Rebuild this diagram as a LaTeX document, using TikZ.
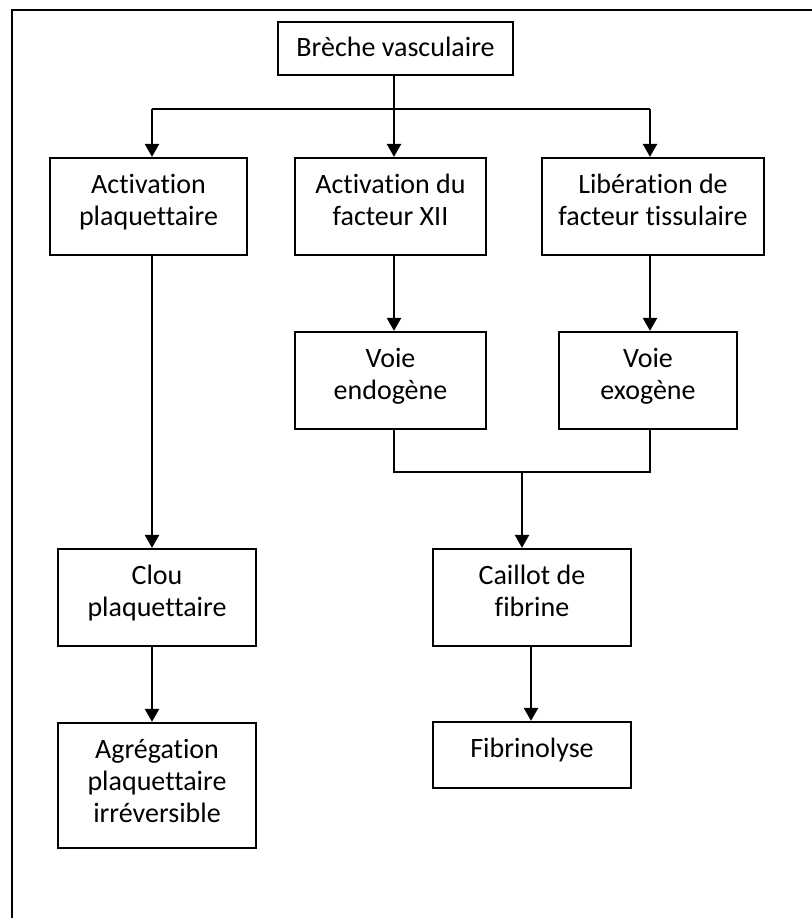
\documentclass[tikz,border=0pt]{standalone}
\usepackage{fontspec}
\setmainfont{Carlito}[Ligatures={NoCommon}]
\usetikzlibrary{arrows.meta,calc}
\newcommand\boxtxt[4]{\parbox[c][#2pt][t]{#1pt}{\centering\fontsize{28}{32.3}\selectfont\rule{0pt}{#3pt}#4\par}}
\begin{document}
\begin{tikzpicture}[x=1pt,y=-1pt,
  box/.style={draw, inner sep=0pt, line width=2.2pt},
  conn/.style={line width=2.4pt},
  arr/.style={line width=2.4pt, -{Triangle[width=14pt,length=13pt]}}]
\useasboundingbox (0,0) rectangle (811,918);
\fill[white] (0,0) rectangle (811,918);
% frame
\draw[line width=2.2pt] (12,930) -- (12,10) -- (820,10);
% nodes
\node[box] (brc) at (395.5,48.5) {\boxtxt{235}{53}{34}{Brèche vasculaire}};
\node[box] (ap) at (148.5,206.5) {\boxtxt{197}{97}{35}{Activation\\plaquettaire}};
\node[box] (ax) at (390.5,206.5) {\boxtxt{191}{97}{35}{Activation du\\facteur XII}};
\node[box] (lf) at (653,206.5) {\boxtxt{222}{97}{35}{Libération de\\facteur tissulaire}};
\node[box] (ve) at (390.5,380.5) {\boxtxt{191}{97}{35}{Voie\\endogène}};
\node[box] (vx) at (648,380.5) {\boxtxt{178}{97}{35}{Voie\\exogène}};
\node[box] (cl) at (157,597.5) {\boxtxt{198}{97}{35}{Clou\\plaquettaire}};
\node[box] (ag) at (157,785.5) {\boxtxt{198}{125}{35}{Agrégation\\plaquettaire\\irréversible}};
\node[box] (ca) at (532,597.5) {\boxtxt{198}{97}{35}{Caillot de\\fibrine}};
\node[box] (fi) at (532,755) {\boxtxt{198}{66}{35}{Fibrinolyse}};
% junction coordinates
\coordinate (jl) at (152,109);
\coordinate (jm) at (394,109);
\coordinate (jr) at (650,109);
\coordinate (kl) at (394,472);
\coordinate (km) at (522,472);
\coordinate (kr) at (650,472);
\coordinate (xf) at (531,0);
% top distribution
\draw[conn] (brc.south -| jm) -- (jm);
\draw[conn] (jl) -- (jr);
\draw[arr] (jl) -- (ap.north -| jl);
\draw[arr] (jm) -- (ax.north -| jm);
\draw[arr] (jr) -- (lf.north -| jr);
% left column
\draw[arr] (ap.south -| jl) -- (cl.north -| jl);
\draw[arr] (cl.south -| jl) -- (ag.north -| jl);
% middle / right
\draw[arr] (ax.south -| jm) -- (ve.north -| jm);
\draw[arr] (lf.south -| jr) -- (vx.north -| jr);
\draw[conn] (ve.south -| kl) -- (kl) -- (kr) -- (vx.south -| kr);
\draw[arr] (km) -- (ca.north -| km);
\draw[arr] (ca.south -| xf) -- (fi.north -| xf);
\end{tikzpicture}
\end{document}
